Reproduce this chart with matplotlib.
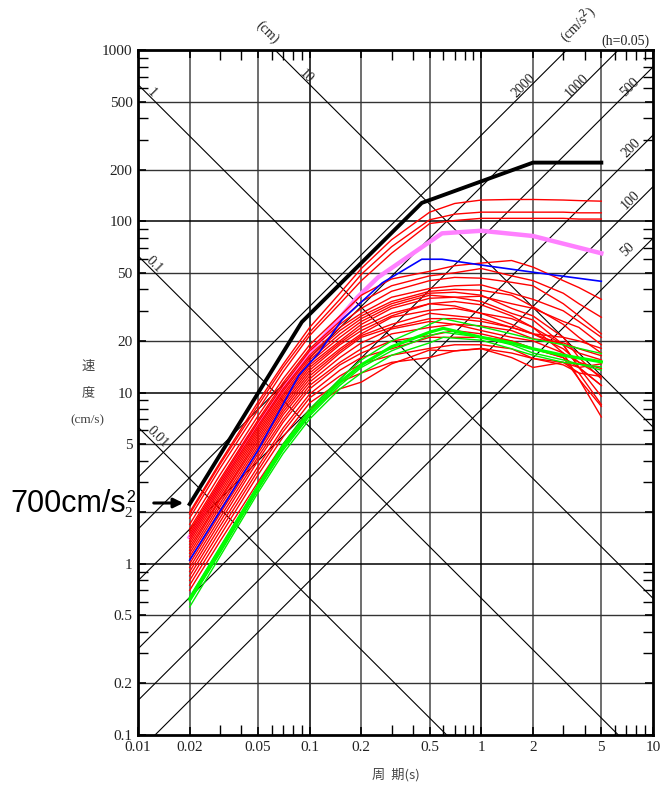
import numpy as np
import matplotlib
matplotlib.use("Agg")
import matplotlib.pyplot as plt
from matplotlib.ticker import NullFormatter

# period axis and tick labels
x_ticks = [0.01, 0.02, 0.05, 0.1, 0.2, 0.5, 1, 2, 5, 10]
x_labels = ["0.01", "0.02", "0.05", "0.1", "0.2", "0.5", "1", "2", "5", "10"]
y_ticks = [0.1, 0.2, 0.5, 1, 2, 5, 10, 20, 50, 100, 200, 500, 1000]
y_labels = ["0.1", "0.2", "0.5", "1", "2", "5", "10", "20", "50", "100", "200", "500", "1000"]

# tripartite guide lines
disp_lines = [0.01, 0.1, 1, 10]              # cm
acc_lines = [50, 100, 200, 500, 1000, 2000]  # cm/s2

# observed spectra (red), common period points
red_T = [0.02, 0.03, 0.05, 0.07, 0.1, 0.15, 0.2, 0.3, 0.5, 0.7, 1.0, 1.5, 2.0, 3.0, 3.7, 5.0]
red_series = [
    [2.0, 3.9, 8.8, 14.6, 24, 38, 53, 78, 113, 127, 133, 134, 134, 133, 132, 131],
    [1.95, 3.8, 8.4, 14, 22.5, 35, 49, 71, 102, 110, 113, 113, 113, 113, 112, 112],
    [1.85, 3.6, 7.9, 13.2, 21.5, 33, 45, 65, 97, 101, 104, 104, 104, 104, 103, 103],
    [1.7, 3.3, 7.3, 12, 19, 28, 37, 46, 51, 55, 57, 59, 54, 45, 41, 35],
    [1.6, 3.1, 6.9, 11.4, 18, 26, 34, 42, 48, 50, 53, 48, 45, 38, 33, 27.5],
    [1.55, 3.0, 6.7, 11, 17.5, 25, 31, 39, 45, 47, 46.5, 44, 42, 33, 28, 22],
    [1.5, 2.9, 6.4, 10.5, 16.5, 24, 29, 36, 40.5, 42, 42.5, 38, 35, 30, 26, 21],
    [1.45, 2.8, 6.2, 10.2, 16, 23, 28, 34, 39, 40, 39.5, 37, 31.7, 25, 21, 17],
    [1.4, 2.7, 6.0, 9.8, 15.5, 22, 27, 33, 38, 38.5, 37, 31, 28, 21, 16, 12],
    [1.35, 2.6, 5.8, 9.5, 15, 21, 26, 32, 37, 36, 34, 29, 26.5, 19, 14, 9.5],
    [1.3, 2.5, 5.6, 9.2, 14.5, 20, 25, 31, 35.5, 36, 36.5, 33, 31, 26, 24, 19],
    [1.25, 2.4, 5.4, 8.9, 14, 19.5, 24, 29, 33, 34, 32.5, 28, 24, 19, 14, 11],
    [1.2, 2.35, 5.2, 8.6, 13.5, 19, 23, 28, 33, 32, 29, 27, 24, 17, 12, 8.3],
    [1.15, 2.25, 5.0, 8.3, 13, 18, 22, 27.5, 30.2, 31, 29, 25, 22, 18, 15, 12.4],
    [1.1, 2.15, 4.8, 8.0, 12.5, 17.5, 21.5, 25, 29, 28, 27, 24, 22, 19, 17, 15.5],
    [1.05, 2.05, 4.6, 7.7, 12, 17, 21, 24, 27, 27, 26, 24, 22, 21, 20, 18.1],
    [1.0, 1.95, 4.4, 7.4, 11.5, 16, 19.5, 23.5, 26, 25, 24.5, 23, 20.6, 19.5, 18, 16.4],
    [0.95, 1.85, 4.2, 7.0, 11, 15, 18, 22, 24, 25, 23, 21, 20, 17, 15, 13.8],
    [0.9, 1.75, 4.0, 6.7, 10.5, 14.5, 17, 20, 21.5, 23, 22, 20, 18.1, 16, 12, 7.2],
    [0.85, 1.65, 3.7, 6.2, 9.8, 13.5, 16, 18, 21, 21, 21, 20, 18, 16, 14, 11],
    [0.8, 1.55, 3.5, 5.9, 9.3, 12.5, 14.7, 16.5, 18.1, 19, 19, 18, 15.8, 15, 14, 14.7],
    [0.75, 1.45, 3.3, 5.5, 8.7, 11.5, 13, 15, 16, 17.5, 18.1, 17, 15.8, 14.5, 13, 12.4],
    [0.7, 1.35, 3.0, 5.0, 8.0, 10.5, 11.5, 14.7, 17.7, 17.5, 18, 16, 14, 15, 13, 8.5],
]

# green spectra
green_T = [0.02, 0.03, 0.05, 0.07, 0.1, 0.15, 0.2, 0.3, 0.5, 0.6, 1.0, 1.5, 2.0, 3.0, 5.0]
green_thick = [0.62, 1.2, 2.8, 4.8, 7.6, 11.5, 14.5, 18.5, 22.5, 23.7, 21, 19.5, 18, 16.5, 15.1]
green_thin = [
    [0.64, 1.25, 2.9, 5.0, 8.0, 12, 15.5, 20, 25, 27, 24.2, 22, 20.5, 19, 16.9],
    [0.56, 1.1, 2.6, 4.4, 7.0, 10.5, 13, 16.5, 19.5, 21, 20.2, 18, 16.5, 15, 14.1],
    [0.6, 1.15, 2.7, 4.6, 7.3, 11, 14, 17.5, 21.5, 22.5, 21, 19, 17, 15.5, 13.5],
]

# pink and blue spectra
pink_T = [0.02, 0.043, 0.1, 0.19, 0.25, 0.59, 1.0, 2.0, 5.0]
pink_v = [1.43, 5.3, 17, 36, 47, 85, 88, 82, 65]
blue_T = [0.02, 0.05, 0.0865, 0.113, 0.154, 0.264, 0.45, 0.59, 1.0, 2.0, 5.0]
blue_v = [1.05, 4.6, 12.6, 17, 26.5, 43.6, 60, 60, 55.5, 50.4, 44.6]

# design spectrum (black)
black_T = [0.02, 0.09, 0.45, 2.0, 5.0]
black_v = [2.23, 25.8, 128, 220, 220]

W, H = 661, 786
fig = plt.figure(figsize=(W / 100, H / 100), dpi=100)
ax = fig.add_axes([138 / W, 51 / H, 515 / W, 685 / H])
ax.set_xscale("log")
ax.set_yscale("log")
ax.set_xlim(0.01, 10)
ax.set_ylim(0.1, 1000)


def fp(x, y):
    return x / W, 1 - y / H


# grid
for t in x_ticks[1:-1]:
    dec = abs(np.log10(t) - round(np.log10(t))) < 1e-6
    ax.axvline(t, color="black" if dec else "#555555", lw=1.1 if dec else 1.2, zorder=1)
for v in y_ticks[1:-1]:
    dec = abs(np.log10(v) - round(np.log10(v))) < 1e-6
    ax.axhline(v, color="black" if dec else "#333333", lw=1.1 if dec else 1.0, zorder=1)

# diagonal lines
Tl = np.array([0.001, 100.0])
for sd in disp_lines:
    ax.plot(Tl, 2 * np.pi * sd / Tl, color="black", lw=0.8, zorder=1)
for sa in acc_lines:
    ax.plot(Tl, sa * Tl / (2 * np.pi), color="black", lw=0.8, zorder=1)

# curves
ax.plot(pink_T, pink_v, color="#ff80ff", lw=3.2, zorder=2)
for s in red_series:
    ax.plot(red_T, s, color="#ff0000", lw=1.0, zorder=3)
for s in green_thin:
    ax.plot(green_T, s, color="#00ee00", lw=1.0, zorder=4)
ax.plot(green_T, green_thick, color="#00ff00", lw=2.3, zorder=4)
ax.plot(blue_T, blue_v, color="#0000ff", lw=1.2, zorder=5)
ax.plot(black_T, black_v, color="black", lw=2.8, zorder=6)

# ticks
ax.set_xticks(x_ticks)
ax.set_xticklabels(x_labels)
ax.set_yticks(y_ticks)
ax.set_yticklabels(y_labels)
minor_x = [m * d for d in [0.01, 0.1, 1] for m in [3, 4, 6, 7, 8, 9]]
minor_y = [m * d for d in [0.1, 1, 10, 100] for m in [3, 4, 6, 7, 8, 9]]
ax.set_xticks(minor_x, minor=True)
ax.set_yticks(minor_y, minor=True)
ax.xaxis.set_minor_formatter(NullFormatter())
ax.yaxis.set_minor_formatter(NullFormatter())
ax.tick_params(which="both", direction="in", top=True, right=True)
ax.tick_params(which="major", length=6, width=1.2, pad=4)
ax.tick_params(which="minor", length=7, width=1.0)
for lab in ax.get_xticklabels() + ax.get_yticklabels():
    lab.set_fontfamily("Liberation Serif")
    lab.set_fontsize(11)
    lab.set_color("#222222")
for sp in ax.spines.values():
    sp.set_linewidth(2.0)

# guide line labels
serif = "Liberation Serif"
for txt, x, y in [("1", 152, 93), ("0.1", 154, 265), ("0.01", 158, 437), ("10", 306, 76)]:
    fig.text(*fp(x, y), txt, rotation=-45, ha="center", va="center",
             fontsize=10, family=serif, color="#222222")
for txt, x, y in [("2000", 524, 86), ("1000", 577, 86), ("500", 630, 87),
                  ("200", 631, 148), ("100", 631, 200), ("50", 628, 250)]:
    fig.text(*fp(x, y), txt, rotation=45, ha="center", va="center",
             fontsize=10, family=serif, color="#222222")
fig.text(*fp(267, 32), "(cm)", rotation=-45, ha="center", va="center",
         fontsize=10, family=serif, color="#222222")
fig.text(*fp(578, 24), "(cm/s$^2$)", rotation=45, ha="center", va="center",
         fontsize=10, family=serif, color="#222222")
fig.text(*fp(625, 41), "(h=0.05)", ha="center", va="center",
         fontsize=10, family=serif, color="#222222")

# axis labels
cjk = ["Noto Sans CJK JP", "DejaVu Sans"]
fig.text(*fp(88, 366), "速", ha="center", va="center", fontsize=9.5, family=cjk, color="#444444")
fig.text(*fp(88, 393), "度", ha="center", va="center", fontsize=9.5, family=cjk, color="#444444")
fig.text(*fp(87, 420), "(cm/s)", ha="center", va="center", fontsize=9.5, family=serif, color="#444444")
fig.text(*fp(396, 775), "周  期(s)", ha="center", va="center", fontsize=9.5, family=cjk, color="#444444")

# 700cm/s2 marker
fig.text(*fp(10, 512), "700cm/s", ha="left", va="baseline", fontsize=22, family="Liberation Sans")
fig.text(*fp(126, 502), "2", ha="left", va="baseline", fontsize=11.5, family="Liberation Sans")
fig.add_artist(matplotlib.patches.FancyArrowPatch(
    fp(151, 503), fp(186, 503), transform=fig.transFigure,
    arrowstyle="-|>", mutation_scale=14, lw=2.2, color="black"))

fig.savefig("out.png", dpi=100)
